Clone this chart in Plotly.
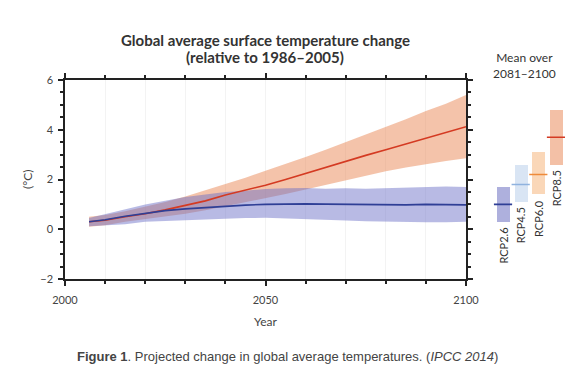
import plotly.graph_objects as go

# ---- data ----
years = [2006, 2010, 2015, 2020, 2025, 2030, 2035, 2040, 2045, 2050,
         2055, 2060, 2065, 2070, 2075, 2080, 2085, 2090, 2095, 2100]

rcp85_mean = [0.30, 0.36, 0.50, 0.62, 0.78, 0.95, 1.14, 1.38, 1.57, 1.77,
              2.00, 2.25, 2.50, 2.73, 2.97, 3.20, 3.43, 3.66, 3.89, 4.12]
rcp85_hi = [0.50, 0.57, 0.72, 0.90, 1.10, 1.32, 1.56, 1.82, 2.07, 2.35,
            2.62, 2.90, 3.20, 3.50, 3.80, 4.10, 4.42, 4.75, 5.05, 5.40]
rcp85_lo = [0.10, 0.16, 0.30, 0.40, 0.50, 0.62, 0.76, 0.92, 1.08, 1.25,
            1.42, 1.60, 1.78, 1.98, 2.17, 2.33, 2.48, 2.62, 2.74, 2.85]

rcp26_mean = [0.30, 0.38, 0.52, 0.65, 0.75, 0.82, 0.88, 0.93, 0.97, 1.00,
              1.02, 1.02, 1.01, 1.00, 1.00, 0.99, 0.98, 1.00, 0.98, 0.98]
rcp26_hi = [0.45, 0.60, 0.80, 1.00, 1.15, 1.30, 1.40, 1.50, 1.55, 1.62,
            1.65, 1.66, 1.63, 1.65, 1.63, 1.66, 1.68, 1.70, 1.72, 1.70]
rcp26_lo = [0.12, 0.15, 0.20, 0.30, 0.33, 0.38, 0.40, 0.42, 0.45, 0.46,
            0.44, 0.40, 0.38, 0.35, 0.32, 0.30, 0.30, 0.28, 0.28, 0.30]

scenarios = ["RCP2.6", "RCP4.5", "RCP6.0", "RCP8.5"]
scen_pos = [1, 2, 3, 4]
end_mean = [1.0, 1.8, 2.2, 3.7]
end_lo = [0.3, 1.1, 1.4, 2.6]
end_hi = [1.7, 2.6, 3.1, 4.8]

x_ticks = [2000, 2050, 2100]
y_ticks = [-2, 0, 2, 4, 6]

# ---- style ----
bar_fill = ["#aeb0dd", "#d9e5f4", "#fad7b8", "#f3c0a6"]
bar_line = ["#2f3f96", "#8fb2de", "#ee8a3a", "#d43a22"]
FONT = "Lato"
OFF = 8                      # browser default body margin
W, H = 573 - OFF, 381 - OFF  # figure size
L, T = 65 - OFF, 80 - OFF
R = 5
B = H - (279 - OFF)
PW = W - L - R
PH = H - T - B


def px(xp):  # page pixel -> paper x
    return (xp - OFF - L) / PW


def py(yp):  # page pixel -> paper y
    return (H - B - (yp - OFF)) / PH


fig = go.Figure()

# RCP8.5 band
fig.add_trace(go.Scatter(x=years, y=rcp85_hi, mode="lines", line=dict(width=0),
                         showlegend=False, hoverinfo="skip"))
fig.add_trace(go.Scatter(x=years, y=rcp85_lo, mode="lines", line=dict(width=0),
                         fill="tonexty", fillcolor="rgba(234,135,85,0.5)",
                         showlegend=False, hoverinfo="skip"))
# RCP2.6 band
fig.add_trace(go.Scatter(x=years, y=rcp26_hi, mode="lines", line=dict(width=0),
                         showlegend=False, hoverinfo="skip"))
fig.add_trace(go.Scatter(x=years, y=rcp26_lo, mode="lines", line=dict(width=0),
                         fill="tonexty", fillcolor="rgba(105,108,198,0.47)",
                         showlegend=False, hoverinfo="skip"))
# means
fig.add_trace(go.Scatter(x=years, y=rcp85_mean, mode="lines",
                         line=dict(color="#d43a22", width=1.6), showlegend=False))
fig.add_trace(go.Scatter(x=years, y=rcp26_mean, mode="lines",
                         line=dict(color="#2f3f96", width=1.6), showlegend=False))

# end-of-century bars
fig.add_trace(go.Bar(x=scen_pos, y=[h - l for h, l in zip(end_hi, end_lo)], base=end_lo,
                     width=0.74, marker=dict(color=bar_fill, line=dict(width=0)),
                     xaxis="x2", yaxis="y2", showlegend=False))
fig.add_trace(go.Scatter(x=scen_pos, y=end_mean, mode="markers",
                         marker=dict(symbol="line-ew", size=13,
                                     line=dict(color=bar_line, width=1.6)),
                         xaxis="x2", yaxis="y2", showlegend=False))

axis_common = dict(showline=True, linecolor="#222", linewidth=1.5, mirror="allticks",
                   ticks="outside", tickcolor="#222", tickwidth=1.5, ticklen=5,
                   tickfont=dict(family=FONT, size=11, color="#444"), zeroline=False,
                   automargin=False)

fig.update_layout(
    width=W, height=H, margin=dict(l=L, r=R, t=T, b=B, autoexpand=False),
    paper_bgcolor="white", plot_bgcolor="white",
    bargap=0,
    xaxis=dict(domain=[0, px(466)], range=[2000, 2100], tickvals=x_ticks,
               showgrid=True, gridcolor="#f3f3f3", gridwidth=1, ticklabelstandoff=5,
               minor=dict(dtick=10, ticks="outside", ticklen=3, tickcolor="#222",
                          showgrid=True, gridcolor="#f3f3f3"),
               **axis_common),
    yaxis=dict(range=[-2, 6], tickvals=y_ticks, showgrid=False, ticklabelstandoff=3,
               minor=dict(dtick=0.5, ticks="outside", ticklen=3, tickcolor="#222"),
               **axis_common),
    xaxis2=dict(domain=[px(492.6), 1.0], range=[0.41, 4.68], visible=False,
                anchor="y2", automargin=False),
    yaxis2=dict(domain=[0, 1], range=[-2, 6], visible=False, anchor="x2",
                automargin=False),
)


def note(text, xp, yp, size, color="#333", family=FONT, angle=0):
    return dict(text=text, x=px(xp), y=py(yp), xref="paper", yref="paper",
                xanchor="center", yanchor="middle", showarrow=False, textangle=angle,
                font=dict(family=family, size=size, color=color))


ann = [
    note("<b>Global average surface temperature change</b>", 265, 40, 15),
    note("<b>(relative to 1986–2005)</b>", 265, 57, 15),
    note("Mean over<br>2081–2100", 524, 65, 12),
    note("(°C)", 27, 180, 12, "#444", angle=-90),
    note("Year", 265, 321, 12, "#444"),
    note("<b>Figure 1</b>. Projected change in global average temperatures. (<i>IPCC 2014</i>)",
         287, 356, 13, "#444", "Liberation Sans"),
]
for s, xp, lo in zip(scenarios, scen_pos, end_lo):
    ann.append(dict(text=s, x=xp, y=lo - 0.15, xref="x2", yref="y2", textangle=-90,
                    xanchor="center", yanchor="top", showarrow=False,
                    font=dict(family=FONT, size=11, color="#333")))
fig.update_layout(annotations=ann)

fig.write_html("out.html")
